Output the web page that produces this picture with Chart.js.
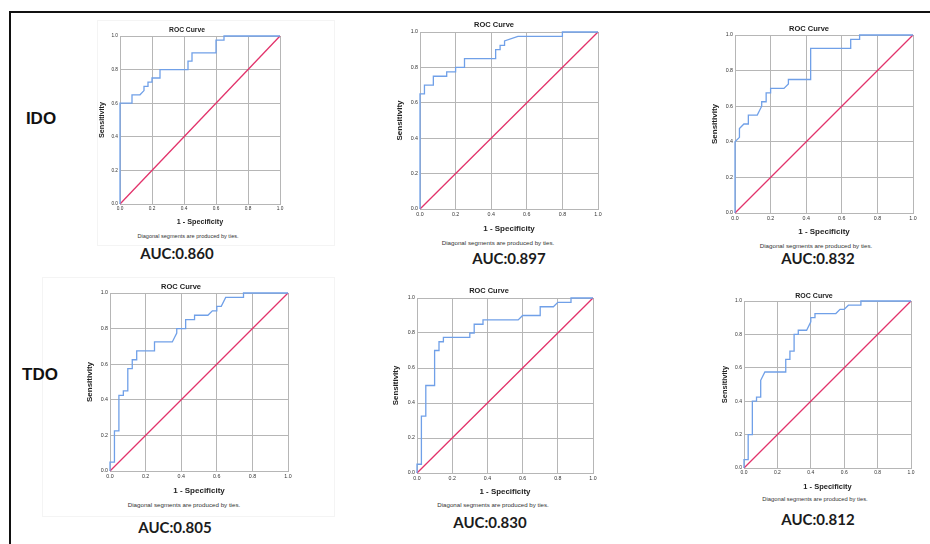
<!DOCTYPE html>
<html>
<head>
<meta charset="utf-8">
<script src="https://cdn.jsdelivr.net/npm/chart.js@4.4.1/dist/chart.umd.min.js"></script>
<style>
  body { margin: 0; background: #fff; }
  #page { position: relative; width: 930px; height: 544px; overflow: hidden; font-family: "Liberation Sans", Arial, sans-serif; }
  .frame { position: absolute; left: 9px; top: 11px; width: 960px; height: 600px; border-left: 2px solid #111; border-top: 2px solid #111; }
  .box { position: absolute; border: 1px solid #f4f4f4; }
  .lbl { position: absolute; white-space: nowrap; transform: translate(-50%, -50%); line-height: 1; }
  .row { font-weight: bold; font-size: 17px; color: #111; }
  .auc { font-family: Lato, sans-serif; font-weight: bold; font-size: 15px; color: #1c1c1c; }
  .ttl { font-weight: bold; color: #222; }
  .note { color: #333; }
  canvas { position: absolute; }
</style>
</head>
<body>
<div id="page">
  <div class="frame"></div>
  <div class="box" style="left:97px;top:20px;width:236px;height:224px"></div>
  <div class="box" style="left:42px;top:277px;width:291px;height:238px"></div>
  <div class="lbl row" style="left:41px;top:118px">IDO</div>
  <div class="lbl row" style="left:40px;top:374px">TDO</div>
</div>
<script>
// ========================
//    ROC data (1 - specificity / sensitivity)
// ========================
const tickLabels = ['0.0', '0.2', '0.4', '0.6', '0.8', '1.0'];
const diagX = [0, 1];
const diagY = [0, 1];

// IDO row
const idoLeftX = [0, 0, 0.075, 0.075, 0.125, 0.15, 0.15, 0.175, 0.175, 0.2, 0.2, 0.25, 0.25, 0.425, 0.425, 0.45, 0.45, 0.6, 0.6, 0.65, 0.65, 1];
const idoLeftY = [0, 0.6, 0.6, 0.65, 0.65, 0.675, 0.7, 0.7, 0.725, 0.725, 0.75, 0.75, 0.8, 0.8, 0.85, 0.85, 0.9, 0.9, 0.975, 0.975, 1, 1];

const idoMidX = [0, 0, 0.025, 0.025, 0.075, 0.075, 0.15, 0.15, 0.2, 0.2, 0.25, 0.25, 0.425, 0.425, 0.45, 0.45, 0.475, 0.475, 0.55, 0.8, 0.8, 1];
const idoMidY = [0, 0.65, 0.65, 0.7, 0.7, 0.75, 0.75, 0.775, 0.775, 0.8, 0.8, 0.85, 0.85, 0.9, 0.9, 0.925, 0.925, 0.95, 0.975, 0.975, 1, 1];

const idoRightX = [0, 0, 0.025, 0.025, 0.05, 0.075, 0.075, 0.125, 0.15, 0.15, 0.175, 0.175, 0.2, 0.2, 0.275, 0.3, 0.3, 0.425, 0.425, 0.65, 0.65, 0.7, 0.7, 1];
const idoRightY = [0, 0.4, 0.425, 0.475, 0.5, 0.5, 0.55, 0.55, 0.6, 0.625, 0.625, 0.675, 0.675, 0.7, 0.7, 0.725, 0.75, 0.75, 0.925, 0.925, 0.975, 0.975, 1, 1];

// TDO row
const tdoLeftX = [0, 0, 0.025, 0.025, 0.05, 0.05, 0.075, 0.075, 0.1, 0.1, 0.125, 0.125, 0.15, 0.15, 0.25, 0.25, 0.35, 0.375, 0.375, 0.425, 0.425, 0.475, 0.475, 0.55, 0.575, 0.6, 0.6, 0.625, 0.65, 0.75, 0.75, 1];
const tdoLeftY = [0, 0.05, 0.05, 0.225, 0.225, 0.425, 0.425, 0.45, 0.45, 0.575, 0.575, 0.625, 0.625, 0.675, 0.675, 0.725, 0.725, 0.775, 0.8, 0.8, 0.85, 0.85, 0.875, 0.875, 0.9, 0.9, 0.925, 0.925, 0.975, 0.975, 1, 1];

const tdoMidX = [0, 0, 0.025, 0.025, 0.05, 0.05, 0.1, 0.1, 0.125, 0.125, 0.15, 0.15, 0.3, 0.3, 0.325, 0.325, 0.375, 0.375, 0.575, 0.6, 0.7, 0.7, 0.775, 0.8, 0.875, 0.875, 1];
const tdoMidY = [0, 0.05, 0.05, 0.325, 0.325, 0.5, 0.5, 0.7, 0.7, 0.75, 0.75, 0.775, 0.775, 0.8, 0.8, 0.85, 0.85, 0.875, 0.875, 0.9, 0.9, 0.95, 0.95, 0.975, 0.975, 1, 1];

const tdoRightX = [0, 0, 0.025, 0.025, 0.05, 0.05, 0.075, 0.075, 0.1, 0.1, 0.125, 0.25, 0.25, 0.275, 0.275, 0.3, 0.3, 0.325, 0.325, 0.375, 0.4, 0.4, 0.425, 0.425, 0.55, 0.575, 0.6, 0.625, 0.7, 0.7, 1];
const tdoRightY = [0, 0.05, 0.05, 0.2, 0.2, 0.4, 0.4, 0.425, 0.425, 0.525, 0.575, 0.575, 0.65, 0.65, 0.7, 0.7, 0.8, 0.8, 0.825, 0.825, 0.875, 0.9, 0.9, 0.925, 0.925, 0.95, 0.95, 0.975, 0.975, 1, 1];

const aucLabels = ['AUC:0.860', 'AUC:0.897', 'AUC:0.832', 'AUC:0.805', 'AUC:0.830', 'AUC:0.812'];

// ========================
//    panel layout (plot box, text anchors)
// ========================
const panels = [
  { xs: idoLeftX,  ys: idoLeftY,  plot: [120, 36, 280, 204],  yT: 102, xT: 222, title: [187, 30],  note: [188, 237], auc: [177, 253] },
  { xs: idoMidX,   ys: idoMidY,   plot: [420, 32, 598, 209],  yT: 400, xT: 229, title: [494, 25],  note: [498, 243], auc: [509, 258] },
  { xs: idoRightX, ys: idoRightY, plot: [735, 35, 913, 213],  yT: 715, xT: 232, title: [809, 29],  note: [816, 246], auc: [818, 258] },
  { xs: tdoLeftX,  ys: tdoLeftY,  plot: [110, 293, 288, 471], yT: 90,  xT: 491, title: [181, 287], note: [184, 505], auc: [175, 527] },
  { xs: tdoMidX,   ys: tdoMidY,   plot: [417, 298, 593, 473], yT: 396, xT: 492, title: [489, 291], note: [493, 505], auc: [490, 522] },
  { xs: tdoRightX, ys: tdoRightY, plot: [744, 301, 911, 468], yT: 725, xT: 486, title: [814, 296], note: [815, 500], auc: [818, 519] }
];

const page = document.getElementById('page');
const gridColor = '#b6b6b6';
const blue = '#70a0e8';
const red = '#e2336b';
const PAD = 6;

function addText(cls, text, pos, size) {
  const d = document.createElement('div');
  d.className = 'lbl ' + cls;
  d.textContent = text;
  d.style.left = pos[0] + 'px';
  d.style.top = pos[1] + 'px';
  if (size) d.style.fontSize = size + 'px';
  page.appendChild(d);
}

function toPoints(xs, ys) {
  return xs.map((x, i) => ({ x, y: ys[i] }));
}

panels.forEach((p, i) => {
  const [l, t, r, b] = p.plot;
  const w = r - l, h = b - t;
  const s = w / 178;
  const axisSize = 8 * s;
  const lh = axisSize * 1.2;

  const cLeft = Math.round(p.yT - lh / 2);
  const yW = l - cLeft;
  const xH = Math.round(p.xT - b + lh / 2);

  const canvas = document.createElement('canvas');
  canvas.width = yW + w + PAD;
  canvas.height = PAD + h + xH;
  canvas.style.left = cLeft + 'px';
  canvas.style.top = (t - PAD) + 'px';
  page.appendChild(canvas);

  const axis = (title, fitFn) => ({
    type: 'linear',
    min: 0,
    max: 1,
    ticks: {
      stepSize: 0.2,
      padding: 2,
      color: '#333',
      font: { family: 'Liberation Sans', size: 5.3 * s },
      callback: (v, idx) => tickLabels[idx]
    },
    grid: { color: gridColor, lineWidth: 1, drawTicks: false },
    border: { display: true, color: gridColor, width: 1 },
    title: {
      display: true,
      text: title,
      color: '#222',
      padding: 0,
      font: { family: 'Liberation Sans', size: axisSize, weight: 'bold' }
    },
    afterFit: fitFn
  });

  new Chart(canvas, {
    type: 'scatter',
    data: {
      datasets: [
        { data: toPoints(p.xs, p.ys), showLine: true, borderColor: blue, borderWidth: 1.3, pointRadius: 0, tension: 0, clip: false },
        { data: toPoints(diagX, diagY), showLine: true, borderColor: red, borderWidth: 1.3, pointRadius: 0, clip: false }
      ]
    },
    options: {
      responsive: false,
      animation: false,
      layout: { padding: { left: 0, top: PAD, right: PAD, bottom: 0 } },
      plugins: { legend: { display: false }, tooltip: { enabled: false } },
      scales: {
        x: axis('1 - Specificity', sc => { sc.height = xH; }),
        y: axis('Sensitivity', sc => { sc.width = yW; })
      }
    }
  });

  addText('ttl', 'ROC Curve', p.title, 7.5 * s);
  addText('note', 'Diagonal segments are produced by ties.', p.note, 6.2 * s);
  addText('auc', aucLabels[i], p.auc);
});
</script>
</body>
</html>
